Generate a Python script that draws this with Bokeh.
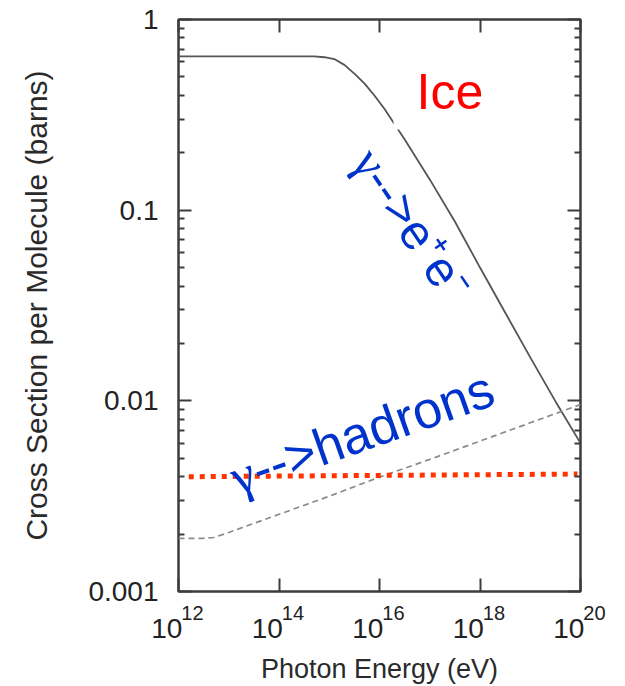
import math

from bokeh.embed import file_html
from bokeh.models import CustomJSTickFormatter, FixedTicker, Label, LogAxis, Range1d
from bokeh.plotting import figure
from bokeh.resources import INLINE

# --- data -----------------------------------------------------------------
# photon energy (eV) and pair-production cross section in ice (barns / molecule)
PAIR_ENERGY = [1e12, 1e13, 1e14, 5e14, 8e14, 1.26e15, 2e15, 3.2e15, 5e15, 8e15,
               1.26e16, 2e16, 3.2e16, 1e17, 3.2e17, 1e18, 3.2e18, 1e19, 3.2e19, 1e20]
PAIR_XSEC = [0.64, 0.64, 0.64, 0.64, 0.634, 0.62, 0.578, 0.519, 0.462, 0.398,
             0.339, 0.282, 0.234, 0.145, 0.0867, 0.050, 0.0289, 0.0169, 0.0099, 0.006]

# photohadronic cross section (barns / molecule)
HADRON_ENERGY = [1e12, 3e12, 5e12, 1e13, 1e14, 1e15, 1e16, 1e17, 1e18, 1e19, 1e20]
HADRON_XSEC = [0.0019, 0.0019, 0.00192, 0.00204, 0.00254, 0.00316, 0.00398,
               0.00493, 0.00615, 0.00767, 0.00957]

# reference level
REF_ENERGY = [1.6e12, 8.7e19]
REF_XSEC = [0.0040, 0.00413]

X_TICKS = [1e12, 1e14, 1e16, 1e18, 1e20]
X_TICK_BASE = ["10"] * len(X_TICKS)
X_TICK_EXP = ["12", "14", "16", "18", "20"]
Y_TICKS = [0.001, 0.01, 0.1, 1.0]
Y_TICK_LABELS = ["0.001", "0.01", "0.1", "1"]
Y_MINOR = [m * d for d in (0.001, 0.01, 0.1) for m in range(2, 10)]

X_MIN, X_MAX = 1e12, 1e20
Y_MIN, Y_MAX = 1e-3, 1.0

FONT = "Liberation Sans"
SERIF = "Liberation Serif"
FRAME = "#3c3c3c"
BLUE = "#0033cc"
NBSP = "\u00a0"

W, H = 625, 686
BORDER_L, BORDER_R, BORDER_T, BORDER_B = 178, 45, 19, 94
FRAME_W = W - BORDER_L - BORDER_R
FRAME_H = H - BORDER_T - BORDER_B
PX_PER_DEC_X = FRAME_W / math.log10(X_MAX / X_MIN)
PX_PER_DEC_Y = FRAME_H / math.log10(Y_MAX / Y_MIN)

p = figure(
    width=W, height=H,
    x_axis_type="log", y_axis_type="log",
    x_range=Range1d(X_MIN, X_MAX), y_range=Range1d(Y_MIN, Y_MAX),
    output_backend="svg", toolbar_location=None,
    min_border_left=BORDER_L, min_border_right=BORDER_R,
    min_border_top=BORDER_T, min_border_bottom=BORDER_B,
)
p.background_fill_color = "white"
p.border_fill_color = "white"
p.outline_line_color = FRAME
p.outline_line_width = 2.5
p.xgrid.visible = False
p.ygrid.visible = False

blank = CustomJSTickFormatter(code="return ''")


def style_axis(ax, ticker, label_size="0px"):
    ax.ticker = ticker
    ax.axis_line_color = None
    ax.major_tick_in = 13
    ax.major_tick_out = 0
    ax.minor_tick_in = 6
    ax.minor_tick_out = 0
    ax.major_tick_line_color = FRAME
    ax.minor_tick_line_color = FRAME
    ax.major_tick_line_width = 2
    ax.minor_tick_line_width = 2
    ax.major_label_text_font = FONT
    ax.major_label_text_font_size = label_size
    ax.major_label_text_color = "#222222"


x_ticker = FixedTicker(ticks=X_TICKS, minor_ticks=[])
y_ticker = FixedTicker(ticks=Y_TICKS, minor_ticks=Y_MINOR)

# bottom: the exponents sit in the inner axis, raised and right of the tick,
# the "10" bases sit in a second axis that overlaps it from below
xe = p.xaxis[0]
style_axis(xe, x_ticker, "20px")
xe.major_label_overrides = {t: NBSP * 5 + e for t, e in zip(X_TICKS, X_TICK_EXP)}
xe.major_label_standoff = 10

xb = LogAxis()
style_axis(xb, x_ticker, "28px")
xb.major_tick_line_color = None
xb.major_label_overrides = {t: b + NBSP * 3 for t, b in zip(X_TICKS, X_TICK_BASE)}
xb.major_label_standoff = -14
xb.axis_label = "Photon Energy (eV)"
xb.axis_label_text_font = FONT
xb.axis_label_text_font_style = "normal"
xb.axis_label_text_font_size = "27px"
xb.axis_label_text_color = "#2a2a2a"
xb.axis_label_standoff = 7
p.add_layout(xb, "below")

# left axis
yl = p.yaxis[0]
style_axis(yl, y_ticker, "28px")
yl.major_label_overrides = dict(zip(Y_TICKS, Y_TICK_LABELS))
yl.major_label_standoff = 20
yl.axis_label = "Cross Section per Molecule (barns)"
yl.axis_label_text_font = FONT
yl.axis_label_text_font_style = "normal"
yl.axis_label_text_font_size = "30px"
yl.axis_label_text_color = "#2a2a2a"
yl.axis_label_standoff = 32

# mirrored tick marks on top and right
top = LogAxis(formatter=blank, major_label_standoff=0)
style_axis(top, x_ticker)
p.add_layout(top, "above")
right = LogAxis(formatter=blank, major_label_standoff=0)
style_axis(right, y_ticker)
p.add_layout(right, "right")

# --- curves -----------------------------------------------------------------
p.line(PAIR_ENERGY, PAIR_XSEC, line_color="#555555", line_width=1.8)
p.line(HADRON_ENERGY, HADRON_XSEC, line_color="#8a8a8a", line_width=1.7,
       line_dash="6 4")
p.line(REF_ENERGY, REF_XSEC, line_color="#ff3300", line_width=5,
       line_dash="5 6", line_cap="butt")

# --- annotations ------------------------------------------------------------
p.add_layout(Label(x=1.9e16, y=0.713, text="Ice", text_font=FONT,
                   text_font_size="50px", text_color="#ff0000",
                   text_align="left", text_baseline="top",
                   background_fill_color="white",
                   padding=dict(left=23, right=22, top=16, bottom=10)))


def rotated_caption(x, y, rest, angle, size, gamma_adv=0.44):
    """Serif gamma followed by sans text along one rotated baseline."""
    px = int(size)
    p.add_layout(Label(x=x, y=y, text="γ", angle=angle, angle_units="deg",
                       text_font=SERIF, text_font_size=f"{px}px",
                       text_color=BLUE, text_align="left",
                       text_baseline="alphabetic"))
    adv = gamma_adv * px
    a = math.radians(angle)
    x2 = x * 10 ** (adv * math.cos(a) / PX_PER_DEC_X)
    y2 = y * 10 ** (adv * math.sin(a) / PX_PER_DEC_Y)
    p.add_layout(Label(x=x2, y=y2, text=rest, angle=angle, angle_units="deg",
                       text_font=FONT, text_font_size=f"{px}px",
                       text_color=BLUE, text_align="left",
                       text_baseline="alphabetic"))


rotated_caption(4.95e15, 0.198, "-->e⁺e⁻", -56, 49)
rotated_caption(1.15e13, 0.0039, "-->hadrons", 19.5, 52)

open("out.html", "w").write(file_html(p, INLINE))
